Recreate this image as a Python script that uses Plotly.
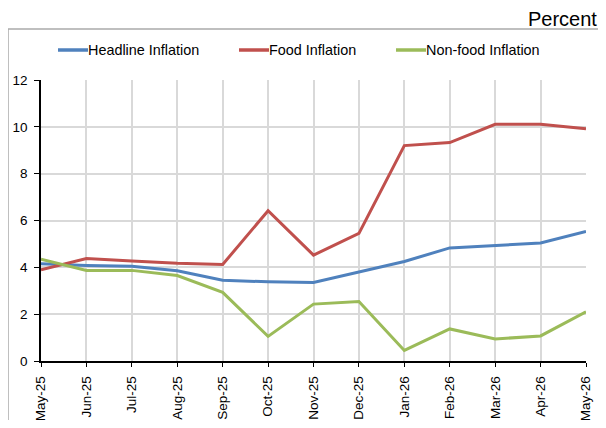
import plotly.graph_objects as go

months = ["May-25", "Jun-25", "Jul-25", "Aug-25", "Sep-25", "Oct-25", "Nov-25",
          "Dec-25", "Jan-26", "Feb-26", "Mar-26", "Apr-26", "May-26"]
headline = [4.15, 4.08, 4.05, 3.85, 3.45, 3.38, 3.35, 3.80, 4.25, 4.83, 4.94, 5.04, 5.53]
food = [3.90, 4.38, 4.27, 4.17, 4.12, 6.42, 4.52, 5.45, 9.20, 9.33, 10.11, 10.11, 9.92]
nonfood = [4.35, 3.87, 3.87, 3.65, 2.93, 1.05, 2.43, 2.54, 0.45, 1.37, 0.94, 1.07, 2.10]

series = [("Headline Inflation", headline, "#4F81BD"),
          ("Food Inflation", food, "#C0504D"),
          ("Non-food Inflation", nonfood, "#9BBB59")]

# figure sized to fit inside the page body (8px body margin)
W, H = 598, 412
L, R, T, B = 33, 20, 72, 59
PW, PH = W - L - R, H - T - B


def px(fx):
    return (fx - L) / PW


def py(fy):
    return (H - B - fy) / PH


fig = go.Figure()
for name, vals, col in series:
    fig.add_trace(go.Scatter(x=months, y=vals, name=name, mode="lines",
                             line=dict(color=col, width=3), cliponaxis=False,
                             showlegend=False))

shapes = [dict(type="rect", xref="paper", yref="paper",
               x0=px(0), x1=px(596), y0=py(H + 5), y1=py(21),
               line=dict(color="#ABABAB", width=1.5), layer="below")]
annotations = [dict(text="Percent", xref="paper", yref="paper",
                    x=px(590), y=py(11), xanchor="right", yanchor="middle",
                    showarrow=False, borderpad=0, font=dict(size=20))]

# manual legend (line sample + label)
leg_x = [50, 231, 388]
leg_y = 42
for (name, vals, col), lx in zip(series, leg_x):
    shapes.append(dict(type="line", xref="paper", yref="paper",
                       x0=px(lx), x1=px(lx + 30), y0=py(leg_y), y1=py(leg_y),
                       line=dict(color=col, width=3.5)))
    annotations.append(dict(text=name, xref="paper", yref="paper",
                            x=px(lx + 28), y=py(leg_y), xanchor="left",
                            yanchor="middle", showarrow=False,
                            font=dict(size=14.4)))

fig.update_layout(
    width=W, height=H,
    margin=dict(l=L, r=R, t=T, b=B, autoexpand=False),
    paper_bgcolor="white", plot_bgcolor="white",
    font=dict(family="Liberation Sans, Arial, sans-serif", size=13.5, color="black"),
    showlegend=False,
    xaxis=dict(type="category", range=[0, 12], showgrid=True, gridcolor="#D9D9D9",
               gridwidth=1.5, showline=True, linecolor="black", linewidth=1.5,
               ticks="outside", ticklen=4, tickcolor="black", tickangle=-90,
               tickfont=dict(size=13.5), zeroline=False, ticklabelstandoff=4,
               automargin=False),
    yaxis=dict(range=[0, 12], dtick=2, showgrid=True, gridcolor="#D9D9D9",
               gridwidth=1.5, showline=True, linecolor="black", linewidth=1.5,
               ticks="outside", ticklen=5, tickcolor="black",
               tickfont=dict(size=13.5), zeroline=False, ticklabelstandoff=4,
               automargin=False),
    shapes=shapes,
    annotations=annotations,
)

fig.write_html("out.html")
